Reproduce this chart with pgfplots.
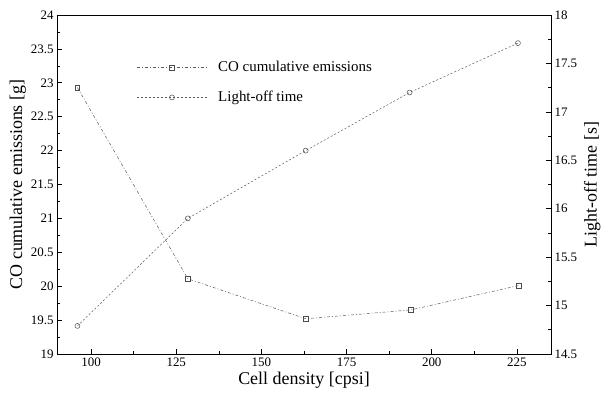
\documentclass[border=0pt]{standalone}
\usepackage{fontspec}
\setmainfont{Liberation Serif}
\usepackage{pgfplots}
\pgfplotsset{compat=1.18}
\begin{document}
\begin{tikzpicture}
\pgfplotsset{
  every axis/.append style={
    scale only axis, width=494bp, height=339bp,
    xmin=90, xmax=235,
    tick align=inside,
    major tick length=5bp, minor tick length=3bp,
    /pgf/number format/assume math mode=true,
    tick label style={font=\fontsize{13}{15}\selectfont},
    label style={font=\fontsize{18}{20}\selectfont},
    every tick/.style={black, line width=0.6pt},
  }
}
\begin{axis}[
  name=ax,
  ymin=19, ymax=24,
  ytick={19,19.5,...,24},
  xtick={100,125,150,175,200,225},
  minor x tick num=1, minor y tick num=1,
  tick pos=left,
  axis line style={line width=0.9pt},
  xlabel={Cell density [cpsi]},
  ylabel={CO cumulative emissions [g]},
  xlabel style={yshift=1bp},
  ylabel style={yshift=-2bp},
  legend style={draw=none, fill=none, at={(0.155,0.875)}, anchor=north west,
    font=\fontsize{15}{17}\selectfont, row sep=14bp, column sep=9bp},
  legend image code/.code={\draw[#1,mark repeat=2,mark phase=2] plot coordinates {(0bp,0bp) (35bp,0bp) (70bp,0bp)};},
  legend cell align=left,
]
\addplot[gray!70!black, dash pattern=on 3pt off 2pt on 1pt off 2pt, line width=0.5pt,
  mark=square, mark size=2.3bp, mark options={solid, black!70}]
  coordinates {(96,22.93) (128.4,20.11) (163,19.52) (193.8,19.65) (225.5,20.01)};
\addlegendentry{CO cumulative emissions}
\addlegendimage{gray!70!black, dash pattern=on 2pt off 2pt, line width=0.5pt,
  mark=o, mark size=2.5bp, mark options={solid, black!70}}
\addlegendentry{Light-off time}
\end{axis}
\begin{axis}[
  ymin=14.5, ymax=18,
  ytick={14.5,15,...,18},
  minor y tick num=1,
  axis x line=none,
  axis y line*=right,
  axis line style={line width=0.9pt},
  y axis line style={-},
  ylabel={Light-off time [s]},
]
\addplot[gray!70!black, dash pattern=on 2pt off 2pt, line width=0.5pt,
  mark=o, mark size=2.5bp, mark options={solid, black!70}]
  coordinates {(96,14.79) (128.4,15.90) (163,16.60) (193.5,17.20) (225.3,17.71)};
\end{axis}
\pgfresetboundingbox
\path (ax.south west) ++(-57bp,-44bp) rectangle ++(601bp,398bp);
\end{tikzpicture}
\end{document}
